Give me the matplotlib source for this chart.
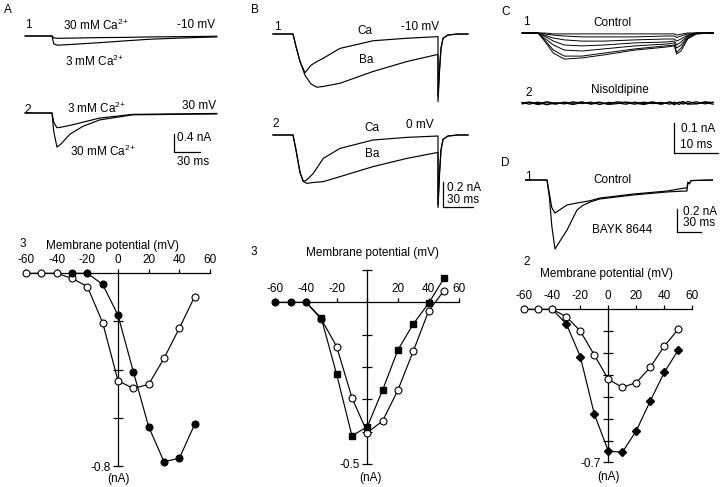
import numpy as np
import matplotlib.pyplot as plt

plt.rcParams['font.family'] = ['Liberation Sans', 'DejaVu Sans']
plt.rcParams['mathtext.fontset'] = 'custom'
plt.rcParams['mathtext.rm'] = 'Liberation Sans'
plt.rcParams['mathtext.it'] = 'Liberation Sans:italic'
plt.rcParams['font.size'] = 8.5

W, H = 720, 487

# ---------------- I-V data (mV, nA) ----------------
mv = [-60, -50, -40, -30, -20, -10, 0, 10, 20, 30, 40, 50]
a_3mM = [0, 0, 0, -0.021, -0.055, -0.205, -0.446, -0.478, -0.461, -0.353, -0.228, -0.097]
mv_a30 = [-30, -20, -10, 0, 10, 20, 30, 40, 50]
a_30mM = [0, 0, -0.046, -0.174, -0.408, -0.637, -0.782, -0.768, -0.627]

b_ba = [0, 0, 0, -0.049, -0.223, -0.413, -0.385, -0.271, -0.147, -0.067, -0.003, 0.074]
b_ca = [0, 0, 0, -0.052, -0.137, -0.295, -0.403, -0.367, -0.271, -0.151, -0.027, 0.036]

d_ctrl = [0, 0, 0, -0.034, -0.099, -0.209, -0.320, -0.357, -0.335, -0.265, -0.168, -0.091]
d_bayk = [0, 0, 0, -0.067, -0.216, -0.479, -0.648, -0.654, -0.555, -0.419, -0.288, -0.186]

# ---------------- current traces (ms, nA) ----------------
# A1: -10 mV
a1_t = [-31, 0, 2, 6, 25, 55, 85, 113, 140, 171, 190]
a1_3mM = [0, 0, -0.17, -0.20, -0.18, -0.145, -0.105, -0.07, -0.05, -0.03, -0.02]
a1_30mM = [0, 0, -0.04, -0.05, -0.045, -0.035, -0.03, -0.02, -0.015, -0.01, -0.005]
# A2: 30 mV
a2_t = [-31, 0, 2, 5.7, 10, 20.7, 35.6, 55, 93, 140, 190]
a2_30mM = [0, 0, -0.40, -0.74, -0.68, -0.46, -0.29, -0.15, -0.04, -0.03, -0.02]
a2_3mM = [0, 0, -0.20, -0.32, -0.31, -0.27, -0.20, -0.11, -0.03, -0.02, -0.01]

# B1: -10 mV
b1_t = [-20, 0, 3, 7, 12, 18, 24, 30, 47, 80, 114, 145, 145.01, 146.5, 148, 150, 155, 165, 175]
b1_ba = [0, 0, -0.10, -0.22, -0.33, -0.40, -0.426, -0.42, -0.394, -0.30, -0.22, -0.163,
         -0.54, -0.30, -0.12, -0.035, -0.008, 0, 0]
b1_ca = [0, 0, -0.10, -0.22, -0.31, -0.25, -0.22, -0.195, -0.115, -0.054, -0.034, -0.021,
         -0.50, -0.28, -0.11, -0.035, -0.008, 0, 0]
# B2: 0 mV
b2_t = [-20, 0, 3, 7, 10.3, 13.7, 20.3, 30.3, 47, 80, 114, 145, 145.01, 146.5, 148, 150, 155, 165, 175]
b2_ca = [0, 0, -0.12, -0.30, -0.373, -0.36, -0.307, -0.187, -0.107, -0.04, -0.019, -0.008,
         -0.56, -0.30, -0.12, -0.035, -0.008, 0, 0]
b2_ba = [0, 0, -0.12, -0.30, -0.37, -0.387, -0.38, -0.373, -0.333, -0.253, -0.187, -0.139,
         -0.58, -0.32, -0.12, -0.035, -0.008, 0, 0]

# C1: control family
c_t = [-3.6, 0, 1.5, 3.5, 6, 10, 15, 22, 29, 31, 31.5, 32.5, 34, 36, 39.8]
c_family = [
    [0, 0, -0.027, -0.067, -0.087, -0.083, -0.073, -0.057, -0.047, -0.043, -0.07, -0.06, -0.02, -0.003, 0],
    [0, 0, -0.023, -0.057, -0.077, -0.077, -0.067, -0.053, -0.043, -0.04, -0.065, -0.05, -0.017, -0.003, 0],
    [0, 0, -0.017, -0.04, -0.057, -0.06, -0.053, -0.043, -0.037, -0.033, -0.05, -0.04, -0.013, -0.002, 0],
    [0, 0, -0.01, -0.027, -0.04, -0.043, -0.04, -0.033, -0.03, -0.027, -0.04, -0.03, -0.01, 0, 0],
    [0, 0, -0.007, -0.017, -0.023, -0.027, -0.027, -0.023, -0.02, -0.02, -0.027, -0.02, -0.007, 0, 0],
    [0, 0, -0.003, -0.007, -0.01, -0.013, -0.013, -0.013, -0.01, -0.01, -0.015, -0.01, -0.003, 0, 0],
    [0, 0, 0, -0.003, -0.003, -0.003, -0.003, -0.003, -0.003, -0.003, -0.007, -0.004, 0, 0, 0],
]
# C2: nisoldipine (flat, noisy)
n_t = [-3.6, -2, 0, 2, 4, 6, 8, 10, 12, 14, 16, 18, 20, 22, 24, 26, 28, 30, 31, 32, 33, 34, 36, 38, 39.8]
n_family = [
    [0.002, -0.004, 0.003, -0.006, 0.001, -0.003, 0.004, -0.002, 0.003, -0.005, 0.002, 0.0, -0.004,
     0.003, -0.002, 0.004, -0.003, 0.002, -0.006, 0.003, -0.004, 0.005, -0.002, 0.004, 0.001],
    [-0.003, 0.002, -0.005, 0.001, -0.004, 0.003, -0.001, 0.004, -0.004, 0.001, -0.003, 0.004, 0.001,
     -0.004, 0.003, -0.002, 0.002, -0.004, 0.003, -0.005, 0.002, -0.002, 0.004, -0.003, 0.003],
    [0.0, 0.003, -0.002, 0.004, -0.001, 0.0, -0.005, 0.002, -0.001, 0.003, -0.005, -0.002, 0.003,
     0.0, -0.005, 0.001, -0.004, 0.004, -0.002, 0.001, 0.005, -0.004, -0.003, 0.002, -0.004],
]

# D1: control vs BAYK 8644
d_t = [-27.5, 0, 3, 6, 10, 25, 37.5, 45, 54, 66, 108, 150, 172, 175, 176, 178, 180, 207.5]
d1_ctrl = [0, 0, -0.12, -0.24, -0.287, -0.217, -0.2, -0.191, -0.18, -0.157, -0.122, -0.096, -0.07,
           -0.07, -0.02, -0.03, -0.005, 0]
d1_bayk = [0, 0, -0.15, -0.40, -0.60, -0.435, -0.261, -0.22, -0.191, -0.165, -0.13, -0.104, -0.096,
           -0.096, -0.02, -0.035, -0.005, 0]

fig = plt.figure(figsize=(W / 100, H / 100), dpi=100)


def place(x0, xs, y0, ys, xlim, ylim):
    """axes whose data origin sits at pixel (x0, y0), scales in px per unit"""
    left = x0 + xlim[0] * xs
    right = x0 + xlim[1] * xs
    top = y0 - ylim[1] * ys
    bottom = y0 - ylim[0] * ys
    ax = fig.add_axes([left / W, 1 - bottom / H, (right - left) / W, (bottom - top) / H])
    ax.set_xlim(*xlim)
    ax.set_ylim(*ylim)
    ax.patch.set_visible(False)
    return ax


def trace_ax(x0, xs, y0, ys, xlim, ylim):
    ax = place(x0, xs, y0, ys, xlim, ylim)
    ax.set_axis_off()
    return ax


def iv_ax(x0, xs, y0, ys, ybounds, yticks, ylab, xlabels):
    ax = place(x0, xs, y0, ys, (-66, 66), (ybounds[0] - 0.06, ybounds[1] + 0.06))
    ax.spines['bottom'].set_visible(False)
    ax.spines['right'].set_visible(False)
    ax.spines['top'].set_position(('data', 0))
    ax.spines['left'].set_position(('data', 0))
    ax.spines['top'].set_bounds(-60, 60)
    ax.spines['left'].set_bounds(*ybounds)
    for s in ('top', 'left'):
        ax.spines[s].set_linewidth(0.9)
    ax.xaxis.set_ticks_position('top')
    ax.set_xticks(range(-60, 61, 20))
    ax.set_xticklabels(xlabels)
    ax.set_yticks(yticks)
    ax.set_yticklabels([''] * (len(yticks) - 1) + [ylab])
    ax.tick_params(axis='x', direction='out', length=3, width=0.9, pad=2, labelsize=8.5)
    ax.tick_params(axis='y', direction='inout', length=7, width=0.9, pad=2, labelsize=8.5)
    return ax


LW = 0.85
open_kw = dict(ls='none', marker='o', ms=5, mfc='white', mec='k', mew=0.8, clip_on=False, zorder=4)
fill_kw = dict(ls='none', marker='o', ms=5, mfc='k', mec='k', mew=0.8, clip_on=False, zorder=4)

# ---------------- A traces ----------------
A_T0, A_XS, A_YS = 52, 0.867, 46
ax = trace_ax(A_T0, A_XS, 36, A_YS, (-32, 192), (-0.3, 0.1))
ax.plot(a1_t, a1_3mM, color='k', lw=LW)
ax.plot(a1_t, a1_30mM, color='k', lw=LW)
ax = trace_ax(A_T0, A_XS, 113, A_YS, (-32, 192), (-0.8, 0.1))
ax.plot(a2_t, a2_30mM, color='k', lw=LW)
ax.plot(a2_t, a2_3mM, color='k', lw=LW)

# ---------------- B traces ----------------
B_T0, B_XS, B_YS = 293, 1.0, 125
ax = trace_ax(B_T0, B_XS, 34, B_YS, (-21, 176), (-0.6, 0.05))
ax.plot(b1_t, b1_ba, color='k', lw=LW)
ax.plot(b1_t, b1_ca, color='k', lw=LW)
ax = trace_ax(B_T0, B_XS, 135, B_YS, (-21, 176), (-0.6, 0.05))
ax.plot(b2_t, b2_ba, color='k', lw=LW)
ax.plot(b2_t, b2_ca, color='k', lw=LW)

# ---------------- C traces ----------------
C_T0, C_XS, C_YS = 538, 4.4, 300
ax = trace_ax(C_T0, C_XS, 33, C_YS, (-4, 40), (-0.1, 0.02))
for tr in c_family:
    ax.plot(c_t, tr, color='k', lw=0.7)
ax = trace_ax(C_T0, C_XS, 103, C_YS, (-4, 40), (-0.03, 0.03))
for tr in n_family:
    ax.plot(n_t, tr, color='k', lw=0.9)

# ---------------- D traces ----------------
D_T0, D_XS, D_YS = 547, 0.8, 115
ax = trace_ax(D_T0, D_XS, 180, D_YS, (-28, 208), (-0.65, 0.05))
ax.plot(d_t, d1_ctrl, color='k', lw=LW)
ax.plot(d_t, d1_bayk, color='k', lw=LW)

# ---------------- I-V curves ----------------
ax = iv_ax(118, 1.533, 273.3, 240.9, (-0.8, 0), [-0.2, -0.4, -0.6, -0.8], '-0.8',
           ['-60', '-40', '-20', '0', '20', '40', '60'])
ax.plot(mv, a_3mM, color='k', lw=LW)
ax.plot(mv_a30, a_30mM, color='k', lw=LW)
ax.plot(mv, a_3mM, **open_kw)
ax.plot(mv_a30, a_30mM, **fill_kw)

ax = iv_ax(367.3, 1.533, 302.3, 323.3, (-0.5, 0.1), [0.1, -0.1, -0.2, -0.3, -0.4, -0.5], '-0.5',
           ['-60', '-40', '-20', '', '20', '40', '60'])
ax.plot(mv[2:], b_ba[2:], color='k', lw=LW)
ax.plot(mv, b_ca, color='k', lw=LW)
ax.plot(mv[3:], b_ca[3:], **open_kw)
ax.plot(mv[3:], b_ba[3:], ls='none', marker='s', ms=4.3, mfc='k', mec='k', clip_on=False, zorder=5)
ax.plot(mv[:3], b_ca[:3], **fill_kw)

ax = iv_ax(608.3, 1.4, 309.3, 218.7, (-0.7, 0), [-0.1, -0.2, -0.3, -0.4, -0.5, -0.6, -0.7], '-0.7',
           ['-60', '-40', '-20', '0', '20', '40', '60'])
ax.plot(mv, d_ctrl, color='k', lw=LW)
ax.plot(mv[2:], d_bayk[2:], color='k', lw=LW)
ax.plot(mv, d_ctrl, **open_kw)
ax.plot(mv[3:], d_bayk[3:], ls='none', marker='D', ms=4.2, mfc='k', mec='k', clip_on=False, zorder=5)

# ---------------- labels & scale bars (pixel overlay) ----------------
pix = fig.add_axes([0, 0, 1, 1])
pix.set_xlim(0, W)
pix.set_ylim(H, 0)
pix.set_axis_off()
pix.patch.set_visible(False)


def txt(x, y, s, ha='left', size=8.5):
    pix.text(x, y, s, ha=ha, va='center', fontsize=size)


def scalebar(x, ybot, hlen, vlen):
    pix.plot([x, x, x + hlen], [ybot - vlen, ybot, ybot], color='k', lw=0.9)


CA = r'Ca$^{2\!+}$'
txt(4, 10, 'A')
txt(25, 25, '1')
txt(63, 25, '30 mM ' + CA)
txt(215, 25, '-10 mV', ha='right')
txt(65, 61, '3 mM ' + CA)
txt(24, 110, '2')
txt(67, 108, '3 mM ' + CA)
txt(216, 106, '30 mV', ha='right')
txt(70, 151, '30 mM ' + CA)
scalebar(174, 152, 30 * A_XS, 0.4 * A_YS)
txt(177, 138, '0.4 nA')
txt(177, 162, '30 ms')

txt(251, 10, 'B')
txt(274, 27, '1')
txt(365, 31, 'Ca', ha='center')
txt(420, 27, '-10 mV', ha='center')
txt(366, 60, 'Ba', ha='center')
txt(272, 124, '2')
txt(372, 128, 'Ca', ha='center')
txt(420, 125, '0 mV', ha='center')
txt(372, 154, 'Ba', ha='center')
scalebar(443, 207, 30 * B_XS, 0.2 * B_YS)
txt(447, 188, '0.2 nA')
txt(447, 200, '30 ms')

txt(501, 12, 'C')
txt(523, 22, '1')
txt(612, 23, 'Control', ha='center')
txt(525, 93, '2')
txt(620, 90, 'Nisoldipine', ha='center')
scalebar(674, 153, 10 * C_XS, 0.1 * C_YS)
txt(681, 129, '0.1 nA')
txt(680, 145, '10 ms')

txt(501, 163, 'D')
txt(525, 177, '1')
txt(612, 180, 'Control', ha='center')
txt(622, 230, 'BAYK 8644', ha='center')
scalebar(677, 232, 30 * D_XS, 0.2 * D_YS)
txt(683, 212, '0.2 nA')
txt(683, 223, '30 ms')

txt(20, 244, '3')
txt(112, 246, 'Membrane potential (mV)', ha='center')
txt(118, 479, '(nA)', ha='center')
txt(251, 252, '3')
txt(372, 253, 'Membrane potential (mV)', ha='center')
txt(371, 478, '(nA)', ha='center')
txt(523, 262, '2')
txt(607, 274, 'Membrane potential (mV)', ha='center')
txt(609, 477, '(nA)', ha='center')

fig.savefig('out.png', dpi=100)
